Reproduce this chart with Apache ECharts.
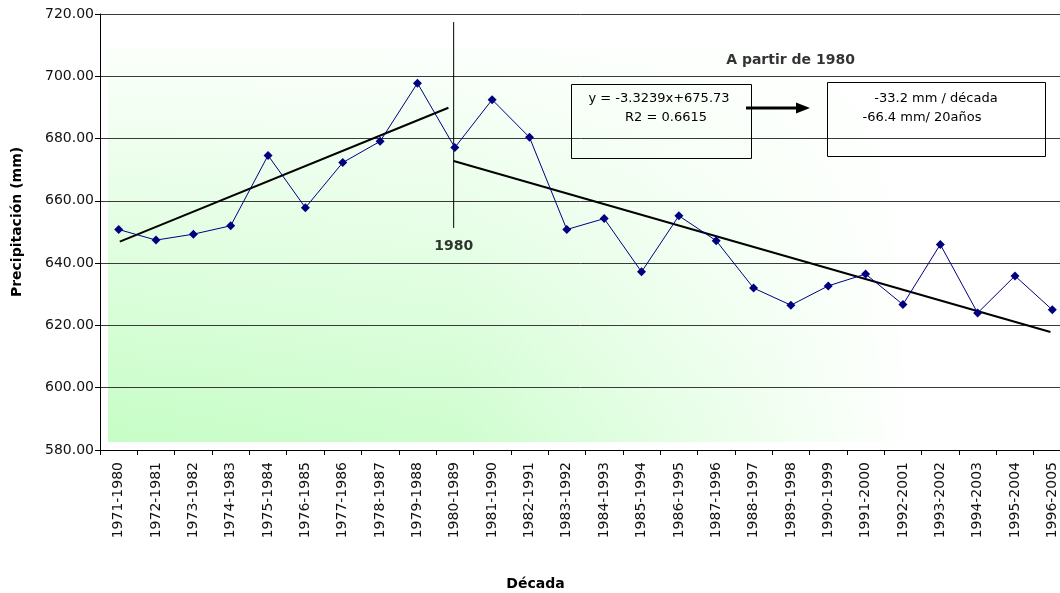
<!DOCTYPE html>
<html>
<head>
<meta charset="utf-8">
<script src="https://cdn.jsdelivr.net/npm/echarts@6/dist/echarts.min.js"></script>
<style>html,body{margin:0;padding:0;background:#fff;overflow:hidden}#c{width:1060px;height:593px}</style>
</head>
<body>
<div id="c"></div>
<script>
const categories = ['1971-1980','1972-1981','1973-1982','1974-1983','1975-1984','1976-1985','1977-1986','1978-1987','1979-1988','1980-1989','1981-1990','1982-1991','1983-1992','1984-1993','1985-1994','1986-1995','1987-1996','1988-1997','1989-1998','1990-1999','1991-2000','1992-2001','1993-2002','1994-2003','1995-2004','1996-2005'];
const precipitation = [650.8,647.4,649.3,652.0,674.6,657.8,672.3,679.1,697.8,677.1,692.5,680.4,650.8,654.3,637.2,655.2,647.2,632.0,626.5,632.7,636.5,626.7,646.0,624.0,635.9,625.0];
const trendBefore = [[0.03,646.9],[8.83,689.9]];
const trendAfter = [[8.97,672.8],[24.95,617.9]];
const divider = [[8.97,717.4],[8.97,651.3]];
const yTicks = {min:580, max:720, interval:20};
const dividerLabel = [[8.97,645.5,'1980']];
const headerLabel = [[17.99,705.2,'A partir de 1980']];
const eqLines = ['y = -3.3239x+675.73','R2 = 0.6615'];
const rateLines = ['-33.2 mm / década','-66.4 mm/ 20años'];

const FONT = 'DejaVu Sans';
const chart = echarts.init(document.getElementById('c'), null, {renderer:'canvas'});
const gridLeft = 100, gridTop = 14, gridW = 971, gridH = 436;
chart.setOption({
  animation:false,
  backgroundColor:'#fff',
  textStyle:{fontFamily:FONT},
  grid:{left:gridLeft, top:gridTop, width:gridW, height:gridH, containLabel:false, outerBoundsMode:'none'},
  graphic:[
    {type:'rect', z:-10, silent:true, shape:{x:108,y:48,width:880,height:394},
     style:{fill:{type:'linear',x:0,y:0,x2:0,y2:1,colorStops:[{offset:0,color:'#fbfffb'},{offset:1,color:'#c6fdc6'}]}}},
    {type:'rect', z:-9, silent:true, shape:{x:108,y:48,width:880,height:394},
     style:{fill:{type:'linear',x:0,y:0,x2:1,y2:0,colorStops:[{offset:0,color:'rgba(255,255,255,0)'},{offset:0.4,color:'rgba(255,255,255,0.15)'},{offset:0.92,color:'rgba(255,255,255,1)'},{offset:1,color:'rgba(255,255,255,1)'}]}}},
    {type:'rect', z:10, shape:{x:571.5,y:84.5,width:180,height:74}, style:{fill:'rgba(0,0,0,0)',stroke:'#000',lineWidth:1}},
    {type:'rect', z:10, shape:{x:827.5,y:82.5,width:218,height:74}, style:{fill:'rgba(0,0,0,0)',stroke:'#000',lineWidth:1}},
    {type:'text', z:11, x:659, y:99, style:{text:eqLines[0],font:'13px "DejaVu Sans"',fill:'#000',align:'center',verticalAlign:'middle'}},
    {type:'text', z:11, x:666, y:118, style:{text:eqLines[1],font:'13px "DejaVu Sans"',fill:'#000',align:'center',verticalAlign:'middle'}},
    {type:'text', z:11, x:936, y:99, style:{text:rateLines[0],font:'13px "DejaVu Sans"',fill:'#000',align:'center',verticalAlign:'middle'}},
    {type:'text', z:11, x:922, y:118, style:{text:rateLines[1],font:'13px "DejaVu Sans"',fill:'#000',align:'center',verticalAlign:'middle'}},
    {type:'line', z:11, shape:{x1:746,y1:108,x2:798,y2:108}, style:{stroke:'#000',lineWidth:3}},
    {type:'polygon', z:11, shape:{points:[[796,102.5],[810,108],[796,113.5]]}, style:{fill:'#000'}}
  ],
  xAxis:[
    {type:'category', data:categories, boundaryGap:true,
     axisLine:{onZero:false, lineStyle:{color:'#000',width:1}},
     axisTick:{show:true, length:5, inside:false, alignWithLabel:false, lineStyle:{color:'#000'}},
     axisLabel:{rotate:90, margin:12, color:'#111', fontSize:14, fontFamily:FONT, interval:0},
     splitLine:{show:false},
     name:'Década', nameLocation:'middle', nameGap:127,
     nameTextStyle:{fontWeight:'bold', fontSize:14, color:'#000', fontFamily:FONT, padding:[0,100,0,0]}},
    {type:'value', min:-0.5, max:25.5, show:false}
  ],
  yAxis:{type:'value', min:yTicks.min, max:yTicks.max, interval:yTicks.interval,
     axisLine:{show:true, onZero:false, lineStyle:{color:'#000',width:1}},
     axisTick:{show:true, length:5, lineStyle:{color:'#000'}},
     axisLabel:{margin:6, color:'#111', fontSize:14, fontFamily:FONT, formatter:v=>v.toFixed(2)},
     splitLine:{show:true, lineStyle:{color:'#3a3a3a', width:1}},
     name:'Precipitación (mm)', nameLocation:'middle', nameGap:76,
     nameTextStyle:{fontWeight:'bold', fontSize:14, color:'#000', fontFamily:FONT, padding:[0,0,0,20]}},
  series:[
    {type:'line', data:precipitation, xAxisIndex:0, symbol:'diamond', symbolSize:9,
     lineStyle:{color:'#000080', width:1}, itemStyle:{color:'#000080'}, z:5},
    {type:'line', data:trendBefore, xAxisIndex:1, symbol:'none', lineStyle:{color:'#000', width:2}, z:4},
    {type:'line', data:trendAfter, xAxisIndex:1, symbol:'none', lineStyle:{color:'#000', width:2}, z:4},
    {type:'line', data:divider, xAxisIndex:1, symbol:'none', lineStyle:{color:'#000', width:1}, z:4},
    {type:'scatter', data:dividerLabel, xAxisIndex:1, symbolSize:0,
     label:{show:true, position:'inside', formatter:p=>p.value[2], fontWeight:'bold', fontSize:14, color:'#000', fontFamily:FONT}},
    {type:'scatter', data:headerLabel, xAxisIndex:1, symbolSize:0,
     label:{show:true, position:'inside', formatter:p=>p.value[2], fontWeight:'bold', fontSize:14, color:'#000', fontFamily:FONT}}
  ]
});
</script>
</body>
</html>
